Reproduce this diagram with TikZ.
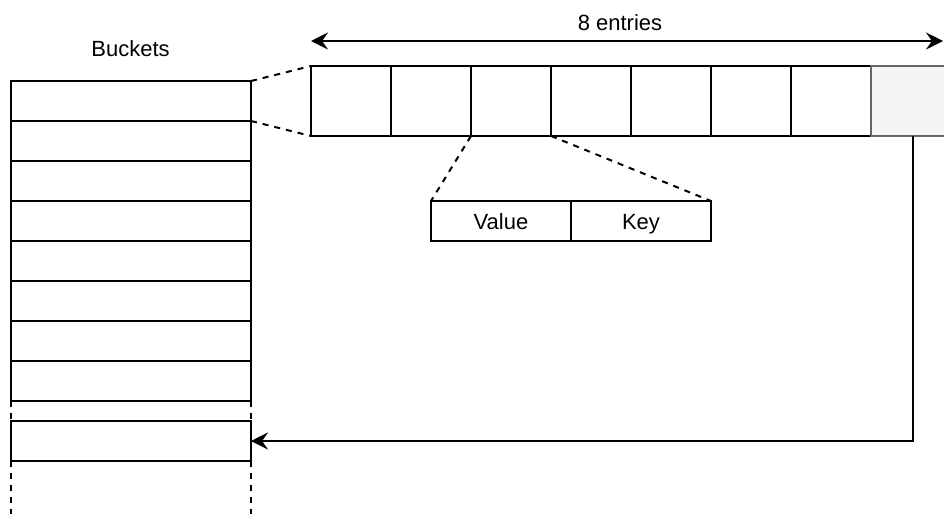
\documentclass[tikz,border=0pt]{standalone}
\usepackage{fontspec}
\setmainfont{Liberation Sans}
\usetikzlibrary{arrows.meta}
\begin{document}
\begin{tikzpicture}[x=1pt,y=-1pt,
  cellbox/.style={draw=black,line width=2pt,minimum width=80pt,minimum height=70pt,inner sep=0pt,outer sep=0pt,anchor=north west},
  rowbox/.style={draw=black,line width=2pt,minimum width=240pt,minimum height=40pt,inner sep=0pt,outer sep=0pt,anchor=north west},
  kvbox/.style={draw=black,line width=2pt,minimum width=140pt,minimum height=40pt,inner sep=0pt,outer sep=0pt,anchor=north west,font=\fontsize{22}{26}\selectfont,text height=18pt,text depth=2pt},
  dashline/.style={line width=2pt,dash pattern=on 6pt off 6pt},
  tip/.tip={Stealth[length=17pt,width=17pt,inset=6pt]},
  conn/.style={line width=2pt,-tip},
  lbl/.style={font=\fontsize{22}{26}\selectfont,inner sep=0pt,anchor=base}
]
\useasboundingbox (0,0) rectangle (944,514);
\fill[white] (0,0) rectangle (944,514);
% buckets
\foreach \i in {1,...,8}{
  \node[rowbox] (b\i) at (11,{81+40*(\i-1)}) {};
}
\node[rowbox] (bx) at (11,421) {};
\node[lbl] (buckets) at (130.5,56.7) {Buckets};
% entries
\foreach \i in {1,...,7}{
  \node[cellbox] (c\i) at ({311+80*(\i-1)},66) {};
}
\node[cellbox,draw=black!60,fill=black!4] (c8) at (871,66) {};
% value/key
\node[kvbox] (v) at (431,201) {Value};
\node[kvbox] (k) at (571,201) {Key};
% top arrow
\coordinate (ta) at (311,41);
\coordinate (tb) at (943,41);
\draw[line width=2pt,tip-tip] (ta) -- (tb);
\node[lbl] (entries) at (620,30) {8 entries};
% zoom dashed
\draw[dashline] (b1.north east) -- (c1.north west);
\draw[dashline] (b1.south east) -- (c1.south west);
\draw[dashline] (c3.south west) -- (v.north west);
\draw[dashline] (c3.south east) -- (k.north east);
% bucket continuation
\coordinate (bl) at (11,514);
\coordinate (br) at (251,514);
\draw[dashline] (b8.south west) -- (bx.north west);
\draw[dashline] (b8.south east) -- (bx.north east);
\draw[dashline] (bx.south west) -- (bl);
\draw[dashline] (bx.south east) -- (br);
% overflow pointer
\coordinate (p) at (913,136);
\draw[conn] (p) |- (bx.east);
\end{tikzpicture}
\end{document}
